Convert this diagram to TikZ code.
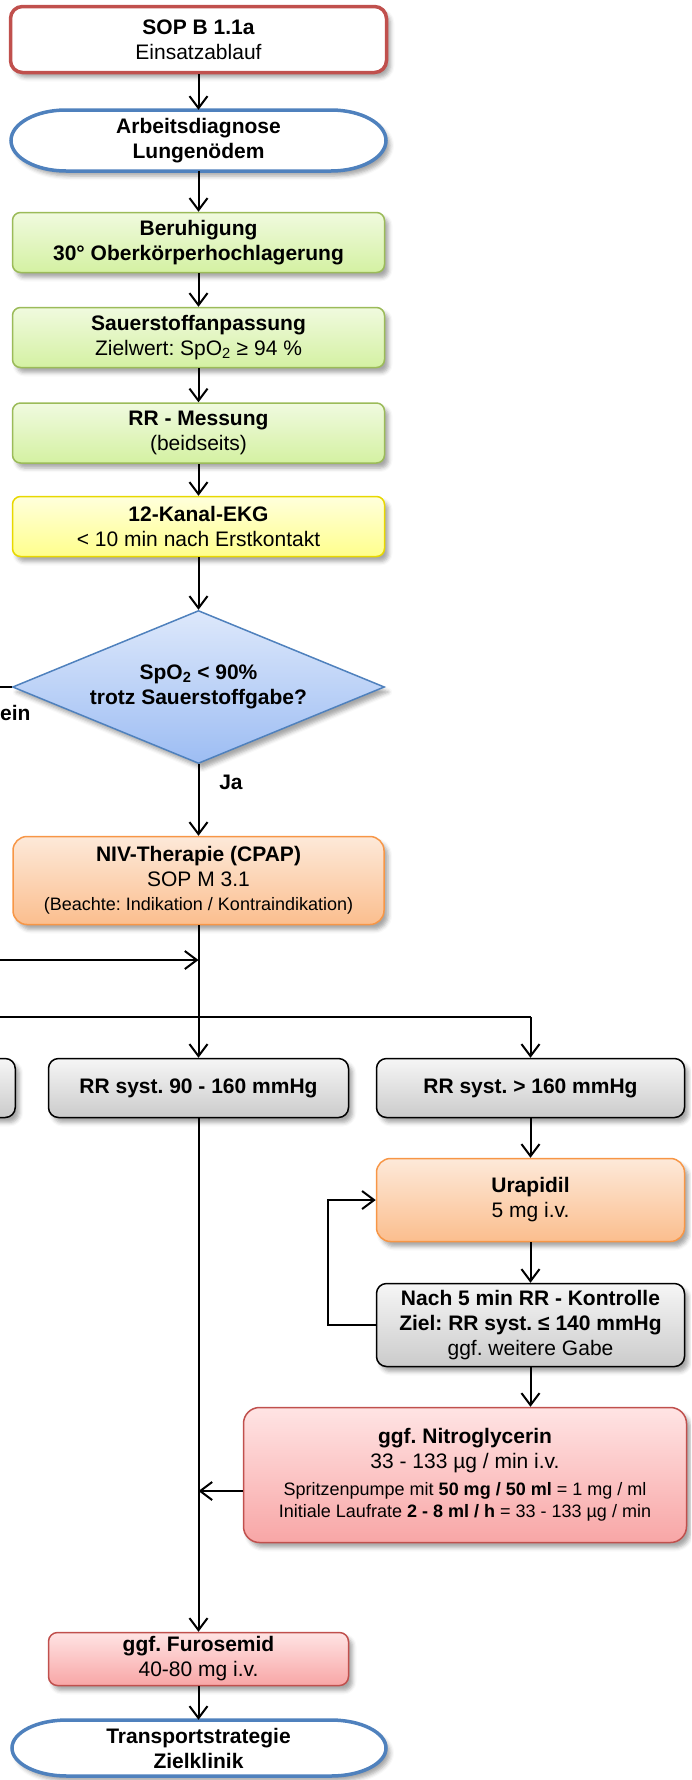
\documentclass[tikz,border=0pt]{standalone}
\usepackage{fontspec}
\setmainfont{Liberation Sans}
\usetikzlibrary{arrows.meta,shapes.geometric,shadows.blur,calc}
\frenchspacing

\newcommand\fsmain{\fontsize{21}{25}\selectfont}
\newcommand\fssmall{\fontsize{18}{22}\selectfont}

\definecolor{redline}{HTML}{C0504D}
\definecolor{blueline}{HTML}{4F81BD}
\definecolor{greenline}{HTML}{9BBB59}
\definecolor{greentop}{HTML}{F0FADF}
\definecolor{greenbot}{HTML}{D4F1A2}
\definecolor{yellowline}{HTML}{E8D800}
\definecolor{yellowtop}{HTML}{FFFFDC}
\definecolor{yellowbot}{HTML}{FFFF8C}
\definecolor{bluetop}{HTML}{DDE8FB}
\definecolor{bluebot}{HTML}{9DBDF3}
\definecolor{orangeline}{HTML}{F79646}
\definecolor{orangetop}{HTML}{FDE9D9}
\definecolor{orangebot}{HTML}{FBBE8E}
\definecolor{graytop}{HTML}{F6F6F6}
\definecolor{graybot}{HTML}{CBCBCB}
\definecolor{pinktop}{HTML}{FFE4E4}
\definecolor{pinkbot}{HTML}{F8A6A6}

\begin{document}
\begin{tikzpicture}[x=1pt,y=-1pt,
  >={Straight Barb[length=12pt,width=18pt]},
  flow/.style={draw=black,line width=2pt,->},
  wire/.style={draw=black,line width=2pt},
  soft/.style={blur shadow={shadow xshift=4pt,shadow yshift=-5pt,
      shadow blur radius=4pt,shadow opacity=35}},
  box/.style={rectangle,align=center,inner sep=0pt,font=\fsmain,soft},
  sopbox/.style={box,rounded corners=12pt,draw=redline,line width=3.5pt,
      fill=white,minimum width=376pt,minimum height=66pt},
  greenbox/.style={box,rounded corners=8pt,draw=greenline,line width=1.5pt,
      top color=greentop,bottom color=greenbot,
      minimum width=372pt,minimum height=60pt},
  yellowbox/.style={greenbox,draw=yellowline,
      top color=yellowtop,bottom color=yellowbot},
  orangebox/.style={box,rounded corners=14pt,draw=orangeline,line width=1.5pt,
      top color=orangetop,bottom color=orangebot},
  graybox/.style={box,rounded corners=10pt,draw=black,line width=1.5pt,
      top color=graytop,bottom color=graybot,minimum height=59pt},
  pinkbox/.style={box,rounded corners=16pt,draw=redline,line width=1.5pt,
      top color=pinktop,bottom color=pinkbot},
  termshape/.style={draw=blueline,line width=3.5pt,fill=white,soft},
  termtext/.style={align=center,inner sep=0pt,font=\fsmain,
      minimum width=375pt},
  decision/.style={diamond,aspect=2.42,inner sep=0pt,align=center,
      font=\fsmain,draw=blueline,line width=1.5pt,
      top color=bluetop,bottom color=bluebot,soft,
      minimum width=372pt,minimum height=153pt},
  lbl/.style={font=\fsmain\bfseries,inner sep=0pt}
]
\useasboundingbox (0,0) rectangle (691,1780);
\clip (0,0) rectangle (691,1780);

% start of the procedure
\node[sopbox] (sop) at (198.5,39.5) {\textbf{SOP B 1.1a}\\Einsatzablauf};

% working diagnosis (terminal shape with elliptic ends)
\path[termshape] (66,110) -- (331,110)
  arc[start angle=90,end angle=-90,x radius=55pt,y radius=30.5pt]
  -- (66,171)
  arc[start angle=270,end angle=90,x radius=55pt,y radius=30.5pt] -- cycle;
\node[termtext,minimum height=61pt] (diag) at (198.5,140.5)
  {\textbf{Arbeitsdiagnose}\\\textbf{Lungenödem}};

% basic measures
\node[greenbox] (calm) at (198.5,242.5)
  {\textbf{Beruhigung}\\\textbf{30° Oberkörperhochlagerung}};
\node[greenbox] (oxy) at (198.5,337.5)
  {\textbf{Sauerstoffanpassung}\\Zielwert: SpO\textsubscript{2} ≥ 94 \%};
\node[greenbox] (bp) at (198.5,433)
  {\textbf{RR - Messung}\\(beidseits)};
\node[yellowbox] (ecg) at (198.5,526.5)
  {\textbf{12-Kanal-EKG}\\< 10 min nach Erstkontakt};

% decision on oxygen saturation
\node[decision] (dec) at (198.5,687)
  {\textbf{SpO\textsubscript{2} < 90\%}\\\textbf{trotz Sauerstoffgabe?}};
\coordinate (noend) at (-5,687);
\node[lbl,anchor=west] (nolbl) at (0,713) {ein};
\node[lbl] (yeslbl) at (231,782) {Ja};

% ventilation
\node[orangebox,minimum width=371pt,minimum height=88pt] (niv) at (198.5,880.5)
  {\textbf{NIV-Therapie (CPAP)}\\SOP M 3.1\\[-1pt]
   {\fssmall (Beachte: Indikation / Kontraindikation)}};

% blood pressure classes
\node[graybox,minimum width=200pt,anchor=east] (rrlow) at (16,1088) {};
\node[graybox,minimum width=300pt] (rrmid) at (198.5,1088)
  {\textbf{RR syst. 90 - 160 mmHg}};
\node[graybox,minimum width=308pt] (rrhigh) at (530.5,1088)
  {\textbf{RR syst. > 160 mmHg}};

% hypertensive branch
\node[orangebox,minimum width=308pt,minimum height=83pt] (ura) at (530.5,1200)
  {\textbf{Urapidil}\\5 mg i.v.};
\node[graybox,minimum width=308pt,minimum height=83pt] (ctrl) at (530.5,1325)
  {\textbf{Nach 5 min RR - Kontrolle}\\\textbf{Ziel: RR syst. ≤ 140 mmHg}\\ggf. weitere Gabe};
\node[pinkbox,minimum width=443pt,minimum height=135pt] (ntg) at (465,1475)
  {\textbf{ggf. Nitroglycerin}\\33 - 133 µg / min i.v.\\[2pt]
   {\fssmall Spritzenpumpe mit \textbf{50 mg / 50 ml} = 1 mg / ml}\\[-3pt]
   {\fssmall Initiale Laufrate \textbf{2 - 8 ml / h} = 33 - 133 µg / min}};

% diuretic and transport
\node[pinkbox,rounded corners=9pt,minimum width=300pt,minimum height=53pt] (furo) at (198.5,1659)
  {\textbf{ggf. Furosemid}\\40-80 mg i.v.};
\path[termshape] (67,1720) -- (331,1720)
  arc[start angle=90,end angle=-90,x radius=55pt,y radius=28pt]
  -- (67,1776)
  arc[start angle=270,end angle=90,x radius=55pt,y radius=28pt] -- cycle;
\node[termtext,minimum height=56pt] (goal) at (198.5,1748)
  {\textbf{Transportstrategie}\\\textbf{Zielklinik}};

% junction points
\coordinate (inA) at (-5,960);
\coordinate (joinA) at (198.5,960);
\coordinate (inB) at (-5,1017);
\coordinate (turnB) at (530.5,1017);
\coordinate (ntgout) at ($(ntg.west)+(0,16)$);
\coordinate (joinC) at (198.5,1491);

% connectors
\draw[flow] (sop) -- (diag);
\draw[flow] (diag) -- (calm);
\draw[flow] (calm) -- (oxy);
\draw[flow] (oxy) -- (bp);
\draw[flow] (bp) -- (ecg);
\draw[flow] (ecg) -- (dec);
\draw[wire] (dec.west) -- (noend);
\draw[flow] (dec) -- (niv);
\draw[flow] (inA) -- (joinA);
\draw[flow] (niv) -- (rrmid);
\draw[wire] (inB) -- (turnB);
\draw[flow] (turnB) -- (rrhigh);
\draw[flow] (rrhigh) -- (ura);
\draw[flow] (ura) -- (ctrl);
\draw[flow] (ctrl.west) -- ++(-48,0) |- (ura.west);
\draw[flow] (ctrl.south) -- (ctrl.south |- ntg.north);
\draw[flow] (ntgout) -- (joinC);
\draw[flow] (rrmid) -- (furo);
\draw[flow] (furo) -- (goal);
\end{tikzpicture}
\end{document}
